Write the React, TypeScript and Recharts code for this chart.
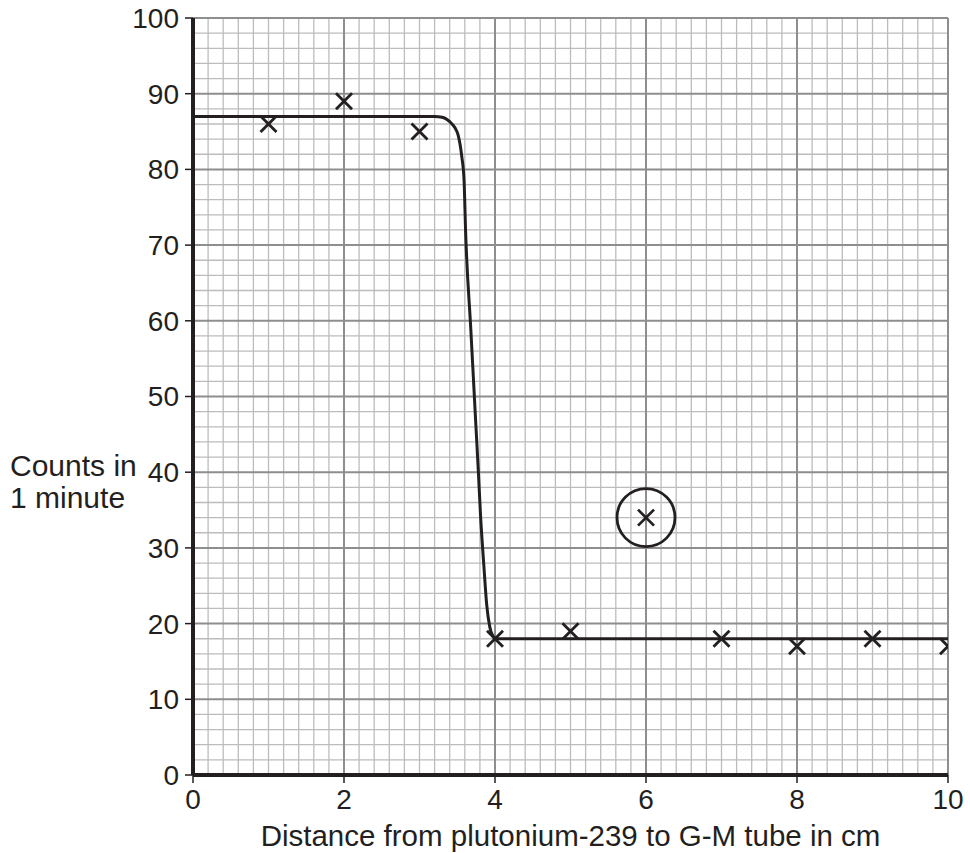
import React from "react";
import {
  ComposedChart,
  Line,
  Scatter,
  XAxis,
  YAxis,
  ReferenceLine,
  ReferenceDot,
  Label,
} from "recharts";

// Tick labels
const xTicks = [0, 2, 4, 6, 8, 10];
const yTicks = [0, 10, 20, 30, 40, 50, 60, 70, 80, 90, 100];

// Measured points (distance cm, counts in 1 minute)
const distances = [1, 2, 3, 4, 5, 6, 7, 8, 9, 10];
const counts = [86, 89, 85, 18, 19, 34, 18, 17, 18, 17];

// Anomalous (circled) reading
const anomalyX = 6;
const anomalyY = 34;

// Hand-drawn line of best fit
const curveX = [0, 3.2, 3.3, 3.4, 3.47, 3.51, 3.56, 3.59, 3.61, 3.68, 3.75, 3.78, 3.81, 3.85, 3.89, 3.93, 3.97, 4.02, 10];
const curveY = [87, 87, 86.9, 86.3, 85.5, 84.6, 81.7, 78.6, 72, 58.8, 45.6, 40, 34, 28, 22.5, 19.6, 18.4, 18, 18];

const points = distances.map((x, i) => ({ x, y: counts[i] }));
const curve = curveX.map((x, i) => ({ x, y: curveY[i] }));

// Graph-paper lines
const xMinor: number[] = [];
for (let k = 1; k < 50; k++) if (k % 10 !== 0) xMinor.push(+(k * 0.2).toFixed(1));
const xMajor = [2, 4, 6, 8, 10];
const yMinor: number[] = [];
for (let k = 1; k < 50; k++) if (k % 5 !== 0) yMinor.push(k * 2);
const yMajor = [10, 20, 30, 40, 50, 60, 70, 80, 90, 100];

const INK = "#231f20";
const FONT = "'Liberation Sans', Arial, Helvetica, sans-serif";
const MINOR = "#bcbcbc";
const MAJOR = "#8e8e8e";

const Cross = (props: any) => {
  const { cx, cy } = props;
  const s = 8;
  return (
    <g>
      <line x1={cx - s} y1={cy - s} x2={cx + s} y2={cy + s} stroke={INK} strokeWidth={2.8} />
      <line x1={cx - s} y1={cy + s} x2={cx + s} y2={cy - s} stroke={INK} strokeWidth={2.8} />
    </g>
  );
};

const YLabel = (props: any) => {
  const vb = props.viewBox || { x: 0, y: 0, width: 0, height: 0 };
  const cy = vb.y + vb.height / 2;
  return (
    <text x={vb.x + 10} y={cy + 79} fill={INK} fontSize={30} fontFamily={FONT}>
      <tspan x={vb.x + 10} y={cy + 79}>Counts in</tspan>
      <tspan x={vb.x + 10} y={cy + 111}>1 minute</tspan>
    </text>
  );
};

const XLabel = (props: any) => {
  const vb = props.viewBox || { x: 0, y: 0, width: 0, height: 0 };
  return (
    <text x={vb.x + vb.width / 2} y={vb.y + 71} fill={INK} fontSize={29.5} fontFamily={FONT} textAnchor="middle">
      Distance from plutonium-239 to G-M tube in cm
    </text>
  );
};

export default function App() {
  return (
    <div style={{ position: "absolute", left: 0, top: 0, background: "#fff" }}>
      <ComposedChart
        width={970}
        height={853}
        margin={{ top: 18, right: 22, bottom: 0, left: 0 }}
      >
        <XAxis
          type="number"
          dataKey="x"
          domain={[0, 10]}
          ticks={xTicks}
          allowDataOverflow
          height={78}
          axisLine={false}
          tickLine={{ stroke: INK, strokeWidth: 1.5 }}
          tickSize={8}
          tickMargin={6}
          tick={{ fill: INK, fontSize: 28, fontFamily: FONT }}
          interval={0}
        >
          <Label content={<XLabel />} />
        </XAxis>
        <YAxis
          type="number"
          dataKey="y"
          domain={[0, 100]}
          ticks={yTicks}
          allowDataOverflow
          width={193}
          axisLine={false}
          tickLine={{ stroke: INK, strokeWidth: 1.5 }}
          tickSize={8}
          tickMargin={6}
          tick={{ fill: INK, fontSize: 28, fontFamily: FONT }}
          interval={0}
        >
          <Label content={<YLabel />} />
        </YAxis>

        {xMinor.map((v) => (
          <ReferenceLine key={"xm" + v} x={v} stroke={MINOR} strokeWidth={1.3} />
        ))}
        {yMinor.map((v) => (
          <ReferenceLine key={"ym" + v} y={v} stroke={MINOR} strokeWidth={1.3} />
        ))}
        {xMajor.map((v) => (
          <ReferenceLine key={"xM" + v} x={v} stroke={MAJOR} strokeWidth={2} />
        ))}
        {yMajor.map((v) => (
          <ReferenceLine key={"yM" + v} y={v} stroke={MAJOR} strokeWidth={2} />
        ))}
        <ReferenceLine x={0} stroke={INK} strokeWidth={4} />
        <ReferenceLine y={0} stroke={INK} strokeWidth={4} />

        <Line
          data={curve}
          dataKey="y"
          type="monotone"
          stroke={INK}
          strokeWidth={3}
          dot={false}
          activeDot={false}
          isAnimationActive={false}
        />
        <Scatter data={points} dataKey="y" shape={<Cross />} isAnimationActive={false} />
        <ReferenceDot
          x={anomalyX}
          y={anomalyY}
          r={29}
          fill="none"
          stroke={INK}
          strokeWidth={2.8}
        />
      </ComposedChart>
    </div>
  );
}
